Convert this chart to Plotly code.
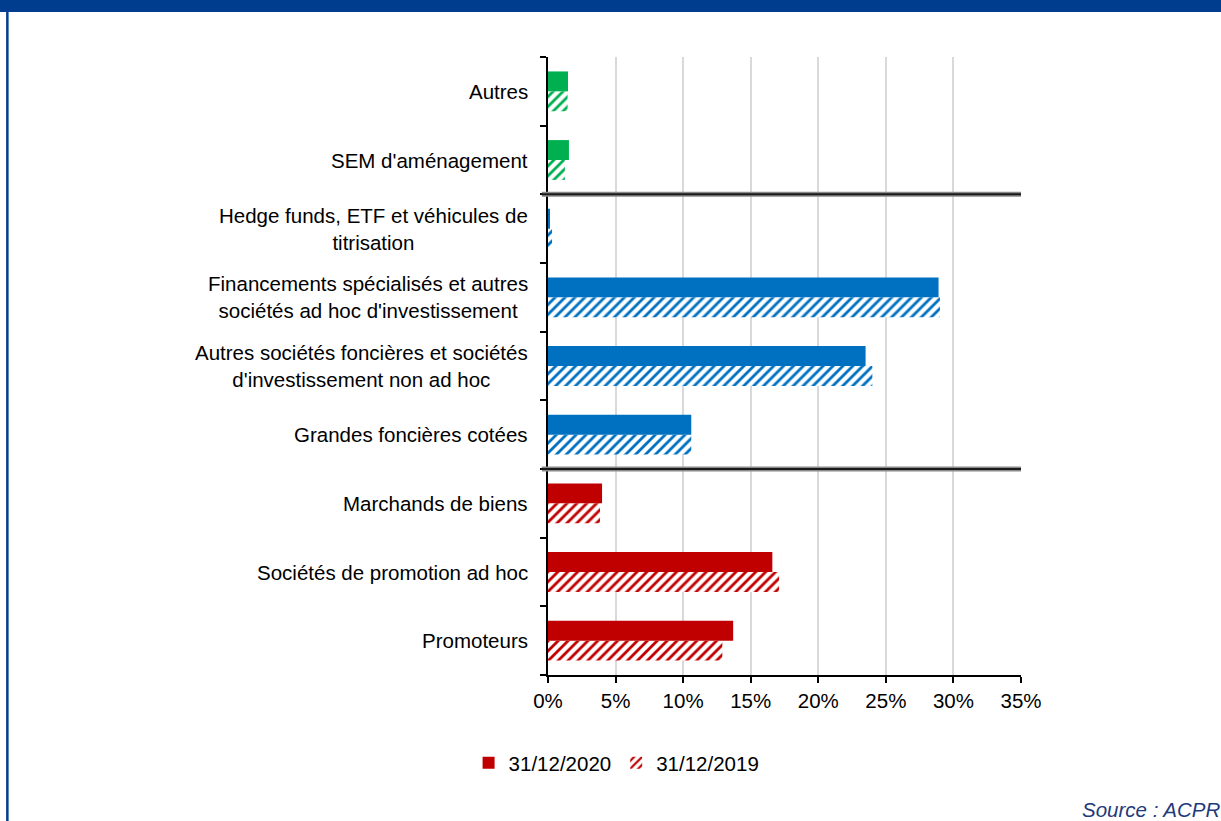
import plotly.graph_objects as go

# categories, bottom to top
categories = [
    "Promoteurs",
    "Sociétés de promotion ad hoc",
    "Marchands de biens",
    "Grandes foncières cotées",
    "Autres sociétés foncières et sociétés<br>d'investissement non ad hoc",
    "Financements spécialisés et autres<br>sociétés ad hoc d'investissement",
    "Hedge funds, ETF et véhicules de<br>titrisation",
    "SEM d'aménagement",
    "Autres",
]
values_2020 = [0.137, 0.166, 0.040, 0.106, 0.235, 0.289, 0.001, 0.0155, 0.0148]
values_2019 = [0.129, 0.171, 0.0385, 0.106, 0.240, 0.290, 0.003, 0.0125, 0.0145]
bar_colors = ["#C00000"] * 3 + ["#0070C0"] * 4 + ["#00B050"] * 2
x_ticks = [0, 0.05, 0.10, 0.15, 0.20, 0.25, 0.30, 0.35]
x_ticklabels = ["0%", "5%", "10%", "15%", "20%", "25%", "30%", "35%"]

font = "Liberation Sans, Arial, sans-serif"
fsize = 20.5

fig = go.Figure()

# 2019 first so it sits below 2020 in each group
fig.add_trace(go.Bar(
    y=categories, x=values_2019, orientation="h", name="31/12/2019",
    legendrank=2,
    marker=dict(color="white", line=dict(width=0),
                pattern=dict(shape="/", fgcolor=bar_colors, bgcolor="white",
                             fgopacity=1, size=7, solidity=0.4)),
))
fig.add_trace(go.Bar(
    y=categories, x=values_2020, orientation="h", name="31/12/2020",
    legendrank=1,
    marker=dict(color=bar_colors, line=dict(width=0)),
))

# category labels, lines centred within each block
for c in categories:
    fig.add_annotation(x=0, xref="paper", y=c, yref="y", text=c,
                       xanchor="right", yanchor="middle", align="center",
                       xshift=-18, showarrow=False,
                       font=dict(family=font, size=fsize, color="#000000"))

# group separators
for yy in [2.5, 6.5]:
    fig.add_shape(type="line", xref="paper", yref="y", x0=-0.013, x1=1, y0=yy, y1=yy,
                  line=dict(color="#8a8a8a", width=5), layer="above")
    fig.add_shape(type="line", xref="paper", yref="y", x0=-0.013, x1=1, y0=yy, y1=yy,
                  line=dict(color="#1a1a1a", width=2), layer="above")

# header band and left frame
fig.add_shape(type="rect", xref="paper", yref="paper", x0=-2, x1=3, y0=1.073, y1=1.2,
              fillcolor="#003D8F", line=dict(width=0), layer="above")
fig.add_shape(type="line", xref="paper", yref="paper", x0=-1.143, x1=-1.143, y0=-0.5, y1=1.08,
              line=dict(color="#003D8F", width=2.5), layer="above")

fig.add_annotation(x=1.425, xref="paper", y=-0.218, yref="paper", text="<i>Source : ACPR</i>",
                   xanchor="right", yanchor="middle", showarrow=False,
                   font=dict(family=font, size=fsize, color="#1F3A7A"))

fig.update_layout(
    width=1221, height=821,
    margin=dict(l=548, r=200, t=57, b=146),
    paper_bgcolor="white", plot_bgcolor="white",
    barmode="group", bargap=0.42, bargroupgap=0,
    font=dict(family=font, size=fsize, color="#000000"),
    showlegend=True,
    legend=dict(orientation="h", x=0.145, xanchor="center", y=-0.11, yanchor="top",
                font=dict(family=font, size=fsize, color="#000000"),
                itemwidth=30, bgcolor="rgba(0,0,0,0)"),
    xaxis=dict(range=[0, 0.35], tickvals=x_ticks, ticktext=x_ticklabels,
               showgrid=True, gridcolor="#D9D9D9", gridwidth=2,
               showline=True, linecolor="#000000", linewidth=2,
               ticks="outside", ticklen=6, tickwidth=2, tickcolor="#000000",
               zeroline=False, fixedrange=True),
    yaxis=dict(categoryorder="array", categoryarray=categories,
               showticklabels=False, tickson="boundaries",
               showline=True, linecolor="#000000", linewidth=2,
               ticks="outside", ticklen=6, tickwidth=2, tickcolor="#000000",
               showgrid=False, zeroline=False, fixedrange=True),
)

fig.write_html("out.html", config={"displayModeBar": False},
               post_script="document.body.style.margin='0';document.body.style.overflow='hidden';")
